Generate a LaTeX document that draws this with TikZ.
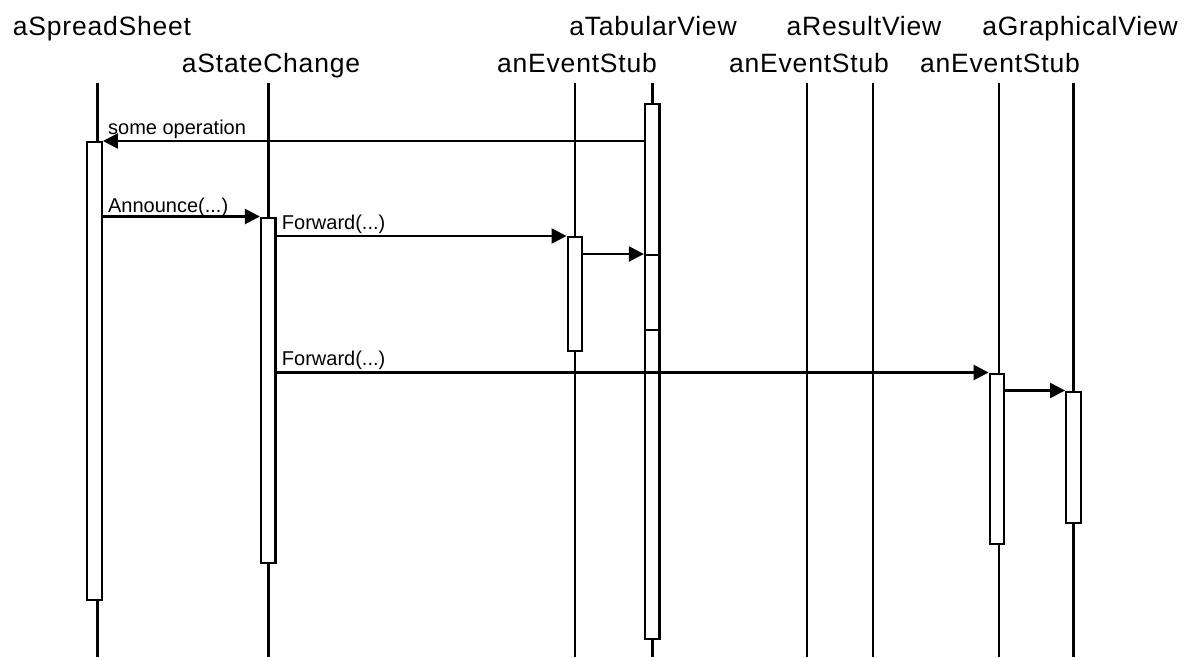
\documentclass[tikz,border=0pt]{standalone}
\usepackage{fontspec}
\setmainfont{Liberation Sans}
\newfontfamily\headfont[LetterSpace=3]{Liberation Sans}
\usetikzlibrary{arrows.meta}

\begin{document}
\begin{tikzpicture}[x=1pt,y=-1pt,
	head/.style={anchor=base,inner sep=0pt,font=\headfont\fontsize{26.5}{30}\selectfont},
	lbl/.style={anchor=base west,inner sep=0pt,font=\fontsize{20}{24}\selectfont},
	life/.style={line width=2.4pt},
	act/.style={draw,fill=white,line width=2.4pt,minimum width=14.5pt,anchor=north,inner sep=0pt},
	msg/.style={line width=2.4pt,-{Triangle[length=15pt,width=15pt]}}]
\useasboundingbox (0,0) rectangle (1194,657);
% object names
\node [head] (ss) at (102,35) {aSpreadSheet};
\node [head] (tv) at (653,35) {aTabularView};
\node [head] (rv) at (864,35) {aResultView};
\node [head] (gv) at (1080,35) {aGraphicalView};
\node [head] (sc) at (271,72) {aStateChange};
\node [head] (es1) at (577,72) {anEventStub};
\node [head] (es2) at (809,72) {anEventStub};
\node [head] (es3) at (1000,72) {anEventStub};
% lifelines
\foreach \n/\x in {ss/97.5,sc/268.3,es1/575,tv/652.3,es2/807,rv/873,es3/999,gv/1073.5}{
	\coordinate (\n-top) at (\x,83);
	\coordinate (\n-bot) at (\x,657);
	\draw [life] (\n-top) -- (\n-bot);
}
% activations
\node [act,minimum height=458pt] (ssAct) at (94.5,141) {};
\node [act,minimum height=345pt] (scAct) at (268.3,216.5) {};
\node [act,minimum height=114pt] (es1Act) at (575,236) {};
\node [act,minimum height=535pt] (tvAct) at (652.3,102.5) {};
\node [act,minimum height=75pt] (tvAct2) at (652.3,254) {};
\node [act,minimum height=170pt] (es3Act) at (997,372.5) {};
\node [act,minimum height=131pt] (gvAct) at (1073.5,390.5) {};
% messages
\draw [msg] (tvAct.west |- ssAct.north) -- (ssAct.north east)
	node [lbl,xshift=4pt,yshift=7pt] (opLbl) {some operation};
\draw [msg] (ssAct.east |- scAct.north)
	node [lbl,xshift=4pt,yshift=4.5pt] (annLbl) {Announce(...)} -- (scAct.north west);
\draw [msg] (scAct.east |- es1Act.north)
	node [lbl,xshift=4pt,yshift=7pt] (fwLbl1) {Forward(...)} -- (es1Act.north west);
\draw [msg] (es1Act.east |- tvAct2.north) -- (tvAct2.north west);
\draw [msg] (scAct.east |- es3Act.north)
	node [lbl,xshift=4pt,yshift=7pt] (fwLbl2) {Forward(...)} -- (es3Act.north west);
\draw [msg] (es3Act.east |- gvAct.north) -- (gvAct.north west);
\end{tikzpicture}
\end{document}
